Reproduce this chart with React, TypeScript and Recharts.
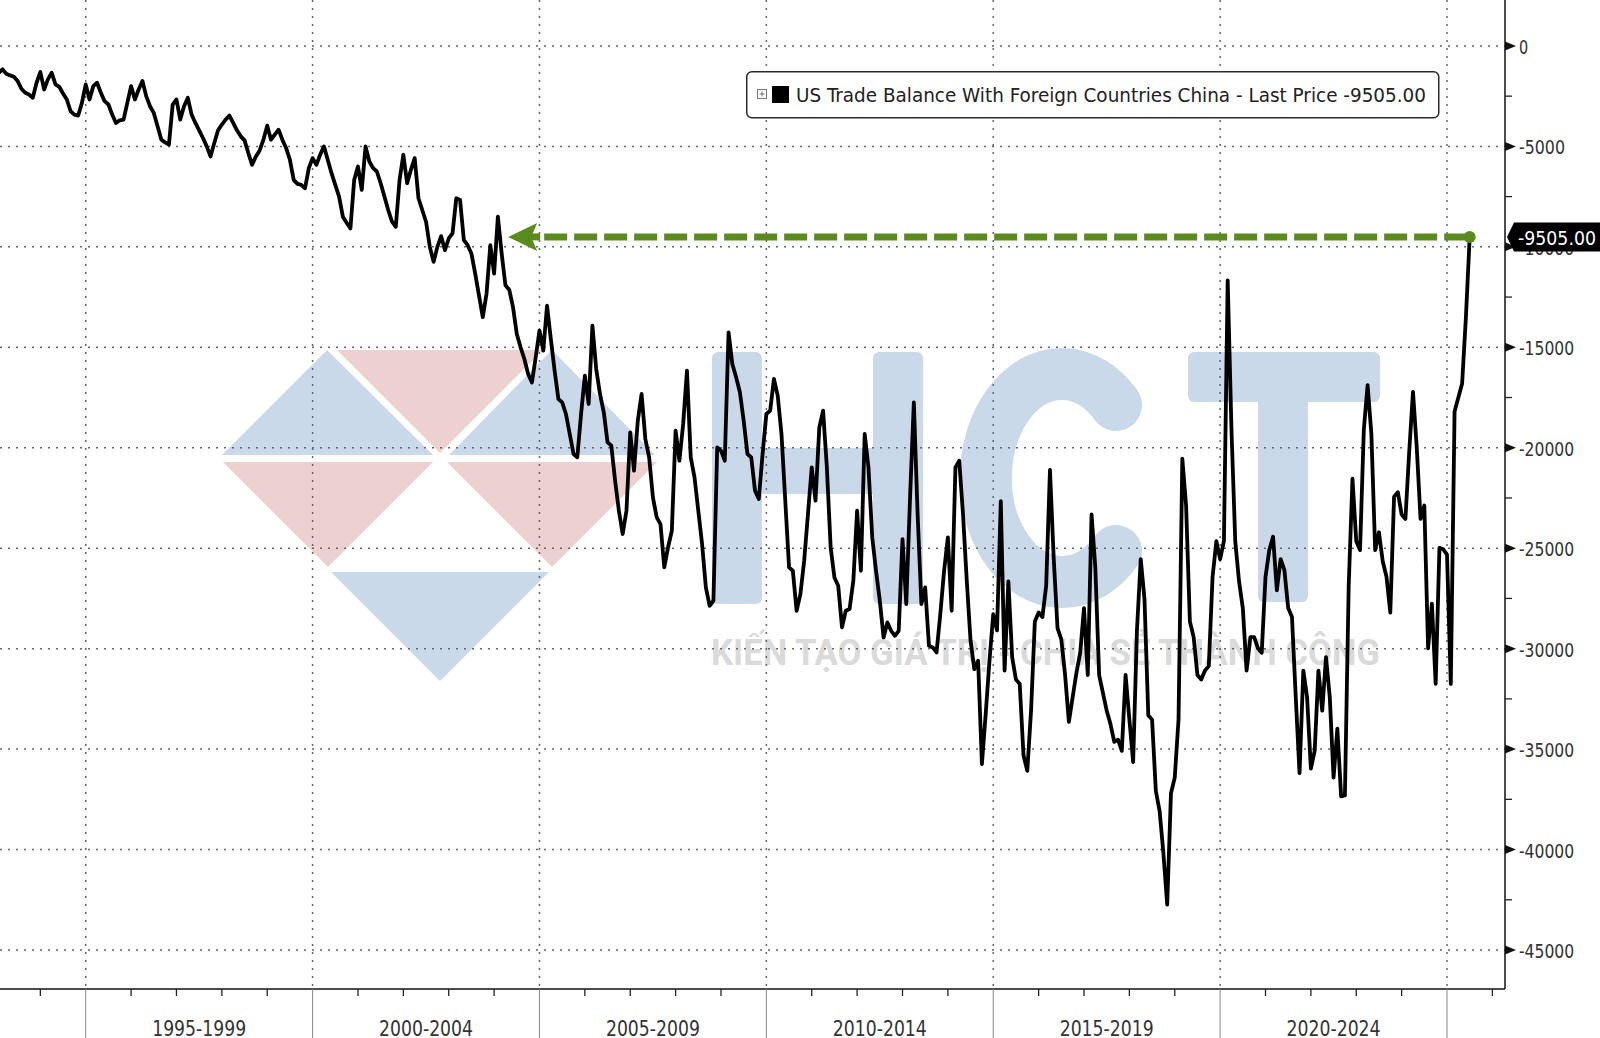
import React from "react";
import { LineChart, Line, XAxis, YAxis, CartesianGrid, ReferenceLine, ReferenceDot, Legend } from "recharts";

// monthly US trade balance with China, USD mn
const values1993to1994 = [
  -1333, -1167, -1383, -1467, -1533, -1750, -2133, -2333, -2417, -2583, -1833, -1300,
  -2167, -1667, -1333, -1917, -2033, -2367, -2667, -3250, -3417, -3467, -2833, -1917,
];
const values1995to1999 = [
  -2667, -2000, -1833, -2333, -2750, -2917, -3417, -3833, -3700, -3667, -2833, -2000,
  -2667, -2167, -1750, -2500, -3000, -3333, -4000, -4667, -4800, -4917, -2917, -2667,
  -3667, -3000, -2583, -3417, -3833, -4200, -4583, -5000, -5500, -4833, -4200, -3917,
  -3667, -3467, -3833, -4200, -4500, -4700, -5333, -5917, -5500, -5200, -4667, -3967,
  -4667, -4417, -4167, -4667, -5083, -5667, -6667, -6867, -6917, -7083, -6083, -5583,
];
const values2000to2004 = [
  -5917, -5417, -5000, -5667, -6333, -6917, -7500, -8500, -8800, -9083, -6667, -6000,
  -7167, -5000, -5750, -6083, -6250, -6833, -7500, -8167, -8750, -9000, -6667, -5417,
  -6833, -6167, -5583, -7583, -8167, -8750, -10000, -10750, -10000, -9467, -10167, -9583,
  -9333, -7583, -7667, -9667, -9917, -10333, -11333, -12417, -13500, -12333, -9917, -11333,
  -8500, -10333, -11917, -12133, -13000, -14333, -15000, -15583, -16333, -16750, -15500, -14170,
];
const values2005to2009 = [
  -15166, -12925, -14585, -16162, -17573, -17739, -18320, -19316, -20312, -20478, -18320, -16411,
  -17822, -13921, -16079, -17324, -18237, -19731, -19897, -21640, -23134, -24296, -23134, -19233,
  -21142, -18652, -17324, -19565, -20478, -22470, -23466, -23800, -25956, -24960, -24130, -19150,
  -20644, -18818, -16162, -20478, -21474, -23134, -24794, -26952, -27865, -27616, -19980, -20146,
  -20644, -14253, -15830, -16494, -17241, -18652, -20312, -20478, -22138, -22553, -20312, -18320,
];
const values2010to2014 = [
  -18154, -16577, -17407, -19316, -22636, -25956, -26122, -28114, -27284, -25624, -23300, -20976,
  -22636, -19000, -18154, -20976, -24960, -26454, -26869, -28944, -28114, -28031, -26620, -23134,
  -26122, -19316, -20976, -24462, -26122, -27616, -29442, -28695, -29110, -29359, -29110, -24545,
  -27782, -22470, -17739, -23300, -27782, -26952, -29857, -29940, -30189, -28280, -26122, -24462,
  -28114, -20976, -20644, -23300, -26620, -29608, -31019, -30604, -35750, -33260, -30604, -28280,
];
const values2015to2019 = [
  -29092, -22654, -31090, -26650, -30424, -31534, -31756, -35308, -36085, -33088, -28648, -28204,
  -28426, -26872, -21100, -25540, -28981, -29536, -31312, -33643, -32422, -31201, -30202, -27982,
  -31312, -23320, -25984, -31312, -32200, -33088, -33754, -34642, -34531, -35086, -31312, -33532,
  -35641, -29092, -25540, -27538, -33310, -33532, -37084, -38083, -40192, -42745, -37195, -36418,
  -33532, -20545, -22876, -28648, -29425, -31312, -31534, -31090, -30868, -26428, -24652, -25540,
];
const values2020to2024 = [
  -24652, -11665, -19102, -24652, -26650, -27982, -31090, -29425, -29425, -29980, -30202, -26428,
  -25096, -24430, -27094, -25540, -26095, -27982, -28426, -32422, -36196, -31090, -32422, -35974,
  -35086, -31090, -33088, -30424, -32422, -36418, -33976, -37350, -37306, -26872, -21544, -24652,
  -25096, -19102, -16882, -19324, -25096, -24208, -25651, -26428, -28204, -22432, -22210, -23320,
  -23542, -20212, -17215, -19990, -23542, -22876, -29980, -27760, -31756, -24985, -25052, -25318,
];
const values2025 = [-31756, -18200, -17500, -16800, -13500, -9505];

const firstYear = 1993;
const seriesName = "US Trade Balance With Foreign Countries China - Last Price";
const lastPrice = -9505;
const lastPriceText = "-9505.00";

const periodLabels = ["1995-1999", "2000-2004", "2005-2009", "2010-2014", "2015-2019", "2020-2024"];
const periodMids = [1997.5, 2002.5, 2007.5, 2012.5, 2017.5, 2022.5];
const gridYears = [1995, 2000, 2005, 2010, 2015, 2020, 2025];
const yearTicks = [
  1994, 1995, 1996, 1997, 1998, 1999, 2000, 2001, 2002, 2003, 2004, 2005, 2006, 2007, 2008, 2009, 2010,
  2011, 2012, 2013, 2014, 2015, 2016, 2017, 2018, 2019, 2020, 2021, 2022, 2023, 2024, 2025, 2026,
];
const yMajorTicks = [0, -5000, -10000, -15000, -20000, -25000, -30000, -35000, -40000, -45000];
const yMinorTicks = [-2500, -7500, -12500, -17500, -22500, -27500, -32500, -37500, -42500];
const arrowFromYear = 2004.31;

const allValues = [
  ...values1993to1994, ...values1995to1999, ...values2000to2004, ...values2005to2009,
  ...values2010to2014, ...values2015to2019, ...values2020to2024, ...values2025,
];
// each month plotted at its month end
const rows = allValues.map((v, i) => ({ t: firstYear + (i + 1) / 12, v }));
const lastT = rows[rows.length - 1].t;

const FONT = "'Liberation Sans Narrow', 'DejaVu Sans Condensed', 'Roboto Condensed', 'Arial Narrow', sans-serif";
const GREEN = "#5b8b1d";

const XTick = (props: any) => {
  const { x, y, payload } = props;
  const v = payload.value;
  const idx = periodMids.indexOf(v);
  if (idx >= 0) {
    return (
      <text x={x} y={y + 47} textAnchor="middle" fontSize={21} fontFamily={FONT} fill="#333"
        textLength={94} lengthAdjust="spacingAndGlyphs">
        {periodLabels[idx]}
      </text>
    );
  }
  if (gridYears.includes(v)) {
    return <line x1={x} x2={x} y1={y} y2={y + 60} stroke="#888" strokeWidth={1} />;
  }
  return <line x1={x} x2={x} y1={y} y2={y + 7} stroke="#222" strokeWidth={1.3} />;
};

const YTick = (props: any) => {
  const { x, y, payload } = props;
  const v = payload.value;
  if (v === lastPrice) {
    // last-price tag on the axis
    return (
      <g>
        <path
          d={`M${x + 2},${y} L${x + 9},${y - 14.5} L${x + 110},${y - 14.5} L${x + 110},${y + 14.5} L${x + 9},${y + 14.5} Z`}
          fill="#000"
        />
        <text x={x + 13} y={y + 1} dominantBaseline="central" fontSize={20} fontFamily={FONT} fill="#fff"
          textLength={78} lengthAdjust="spacingAndGlyphs">
          {lastPriceText}
        </text>
      </g>
    );
  }
  if (yMajorTicks.includes(v)) {
    const label = String(v);
    return (
      <g>
        <polygon points={`${x},${y - 4.5} ${x + 11},${y} ${x},${y + 4.5}`} fill="#111" />
        <text x={x + 14} y={y + 1} dominantBaseline="central" fontSize={20} fontFamily={FONT} fill="#333"
          textLength={label.length * 9.2} lengthAdjust="spacingAndGlyphs">
          {label}
        </text>
      </g>
    );
  }
  return <line x1={x} x2={x + 7} y1={y} y2={y} stroke="#222" strokeWidth={1.3} />;
};

const ArrowLine = (p: any) => {
  const left = Math.min(p.x1, p.x2);
  const right = Math.max(p.x1, p.x2);
  const y = p.y1;
  return (
    <g>
      <line x1={left + 36} y1={y} x2={right} y2={y} stroke={GREEN} strokeWidth={7} strokeDasharray="23 7" />
      <polygon points={`${left},${y} ${left + 29},${y - 14} ${left + 23},${y} ${left + 29},${y + 14}`} fill={GREEN} />
      <line x1={left + 20} y1={y} x2={left + 32} y2={y} stroke={GREEN} strokeWidth={7} />
    </g>
  );
};

const LegendBox = () => (
  <svg width={694} height={48} style={{ display: "block" }}>
    <rect x={0.75} y={0.75} width={692} height={46} rx={5} fill="#fff" stroke="#2a2a2a" strokeWidth={1.5} />
    <rect x={11.5} y={18.5} width={9} height={9} fill="#fff" stroke="#777" strokeWidth={1} />
    <line x1={13.5} x2={18.5} y1={23} y2={23} stroke="#777" strokeWidth={1} />
    <line x1={16} x2={16} y1={20.5} y2={25.5} stroke="#777" strokeWidth={1} />
    <rect x={26} y={15} width={17} height={17} fill="#000" />
    <text x={50} y={31} fontSize={19} fontFamily={FONT} fill="#222" textLength={630} lengthAdjust="spacingAndGlyphs">
      {`${seriesName} ${lastPriceText}`}
    </text>
  </svg>
);

const Watermark = () => {
  const blue = "#c9d9ea";
  const pink = "#edd1d1";
  return (
    <svg width={1600} height={1038} style={{ position: "absolute", left: 0, top: 0 }}>
      <polygon points="222,455 327,350 433,455" fill={blue} />
      <polygon points="337,350 543,350 440,453" fill={pink} />
      <polygon points="449,455 552,350 655,455" fill={blue} />
      <polygon points="223,462 433,462 328,567" fill={pink} />
      <polygon points="447,462 657,462 552,567" fill={pink} />
      <polygon points="331,572 549,572 440,681" fill={blue} />
      <rect x={712} y={352} width={50} height={252} rx={6} fill={blue} />
      <rect x={873} y={352} width={50} height={252} rx={6} fill={blue} />
      <rect x={760} y={448} width={116} height={46} fill={blue} />
      <path d="M1116,405 A76,104 0 1 0 1116,551" fill="none" stroke={blue} strokeWidth={52} strokeLinecap="round" />
      <rect x={1188} y={352} width={192} height={50} rx={6} fill={blue} />
      <rect x={1258} y={352} width={50} height={250} rx={6} fill={blue} />
      <text x={711} y={665} fontSize={36} fontWeight={700} fontFamily="Roboto, 'Noto Sans', sans-serif" fill="#dadada" textLength={669} lengthAdjust="spacingAndGlyphs">
        KIẾN TẠO GIÁ TRỊ - CHIA SẺ THÀNH CÔNG
      </text>
    </svg>
  );
};

export default function App() {
  return (
    <div style={{ position: "absolute", left: 0, top: 0, width: 1600, height: 1038, background: "#fff", overflow: "hidden" }}>
      <Watermark />
      <LineChart width={1600} height={1038} data={rows} margin={{ top: 0, right: 0, bottom: 0, left: 0 }}>
        <CartesianGrid
          horizontalValues={yMajorTicks}
          verticalValues={gridYears}
          stroke="#666"
          strokeWidth={1.5}
          strokeDasharray="2 6"
        />
        <XAxis
          dataKey="t"
          type="number"
          domain={[1993.111, 2026.278]}
          allowDataOverflow
          ticks={[...yearTicks, ...periodMids]}
          interval={0}
          tick={<XTick />}
          tickLine={false}
          tickSize={0}
          tickMargin={0}
          height={49}
          axisLine={{ stroke: "#111", strokeWidth: 1.5 }}
        />
        <YAxis
          orientation="right"
          type="number"
          domain={[-46940, 2286]}
          allowDataOverflow
          ticks={[...yMajorTicks, ...yMinorTicks, lastPrice]}
          interval={0}
          tick={<YTick />}
          tickLine={false}
          tickSize={0}
          tickMargin={0}
          width={95}
          axisLine={{ stroke: "#111", strokeWidth: 1.5 }}
        />
        <Legend
          layout="horizontal"
          verticalAlign="middle"
          align="center"
          content={() => <LegendBox />}
          wrapperStyle={{ left: 746, top: 71, width: 694, height: 48 }}
        />
        <Line type="linear" dataKey="v" stroke="#000" strokeWidth={3.8} dot={false} strokeLinejoin="round" isAnimationActive={false} legendType="none" />
        <ReferenceLine
          segment={[{ x: arrowFromYear, y: lastPrice }, { x: lastT, y: lastPrice }]}
          shape={ArrowLine}
        />
        <ReferenceDot x={lastT} y={lastPrice} r={6} fill={GREEN} stroke="none" />
      </LineChart>
    </div>
  );
}
